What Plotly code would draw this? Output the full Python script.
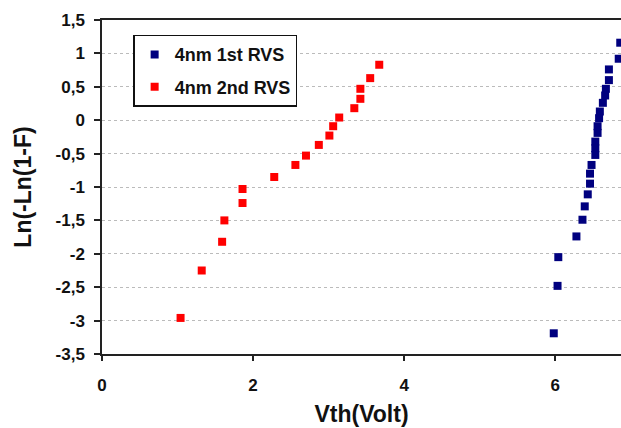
import plotly.graph_objects as go

series1_name = "4nm 1st RVS"
series1_x = [6.86, 6.84, 6.71, 6.71, 6.67, 6.66, 6.63, 6.59, 6.58, 6.56, 6.56, 6.53,
             6.53, 6.53, 6.48, 6.46, 6.46, 6.43, 6.39, 6.36, 6.28, 6.04, 6.03, 5.98]
series1_y = [1.16, 0.92, 0.76, 0.60, 0.47, 0.37, 0.26, 0.13, 0.03, -0.09, -0.19, -0.32,
             -0.42, -0.52, -0.67, -0.80, -0.95, -1.11, -1.29, -1.49, -1.74, -2.05, -2.48, -3.19]

series2_name = "4nm 2nd RVS"
series2_x = [3.67, 3.55, 3.42, 3.42, 3.34, 3.14, 3.06, 3.01, 2.87, 2.70, 2.56, 2.28,
             1.86, 1.86, 1.62, 1.59, 1.32, 1.04]
series2_y = [0.83, 0.63, 0.47, 0.32, 0.18, 0.04, -0.09, -0.23, -0.37, -0.53, -0.67, -0.85,
             -1.03, -1.24, -1.50, -1.82, -2.25, -2.96]

x_ticks = [0, 2, 4, 6]
y_ticks = [1.5, 1, 0.5, 0, -0.5, -1, -1.5, -2, -2.5, -3, -3.5]
y_tick_labels = ["1,5", "1", "0,5", "0", "-0,5", "-1", "-1,5", "-2", "-2,5", "-3", "-3,5"]

FONT = "Liberation Sans, Arial, sans-serif"

fig = go.Figure()
fig.add_trace(go.Scatter(x=series1_x, y=series1_y, mode="markers", name=series1_name,
                         legendgroup="a",
                         marker=dict(symbol="square", size=8, color="#00007f")))
fig.add_trace(go.Scatter(x=series2_x, y=series2_y, mode="markers", name=series2_name,
                         legendgroup="b",
                         marker=dict(symbol="square", size=8, color="#ff0000")))

fig.update_layout(
    width=621, height=428,
    margin=dict(l=102, r=0, t=20, b=74, autoexpand=False),
    plot_bgcolor="white", paper_bgcolor="white",
    font=dict(family=FONT, size=17, color="#111", weight="bold"),
    showlegend=True,
    legend=dict(x=0.060, y=0.956, xanchor="left", yanchor="top",
                bordercolor="#111", borderwidth=1.5, bgcolor="white",
                font=dict(size=18, family=FONT, weight="bold", color="#111"),
                itemsizing="trace", tracegroupgap=6),
    xaxis=dict(range=[0, 6.87], tickvals=x_ticks, ticktext=[str(v) for v in x_ticks],
               showgrid=False, zeroline=False, showline=True, linecolor="#222", linewidth=1.5,
               mirror=True, ticks="outside", ticklen=5, tickcolor="#222", tickwidth=1.5,
               ticklabelstandoff=10, automargin=False,
               title=dict(text="Vth(Volt)", font=dict(size=23, family=FONT, weight="bold"), standoff=12),
               tickfont=dict(size=17, family=FONT, weight="bold")),
    yaxis=dict(range=[-3.5, 1.5], tickvals=y_ticks, ticktext=y_tick_labels,
               showgrid=True, gridcolor="#bbbbbb", griddash="dot", gridwidth=1,
               zeroline=False, showline=True, linecolor="#222", linewidth=1.5,
               ticks="outside", ticklen=6, tickcolor="#222", tickwidth=1.5,
               ticklabelstandoff=6, automargin=False,
               title=dict(text="Ln(-Ln(1-F)", font=dict(size=23, family=FONT, weight="bold"), standoff=18),
               tickfont=dict(size=17, family=FONT, weight="bold")),
)

fig.write_html("out.html",
               config={"displayModeBar": False},
               post_script="document.body.style.margin='0';document.body.style.overflow='hidden';")
